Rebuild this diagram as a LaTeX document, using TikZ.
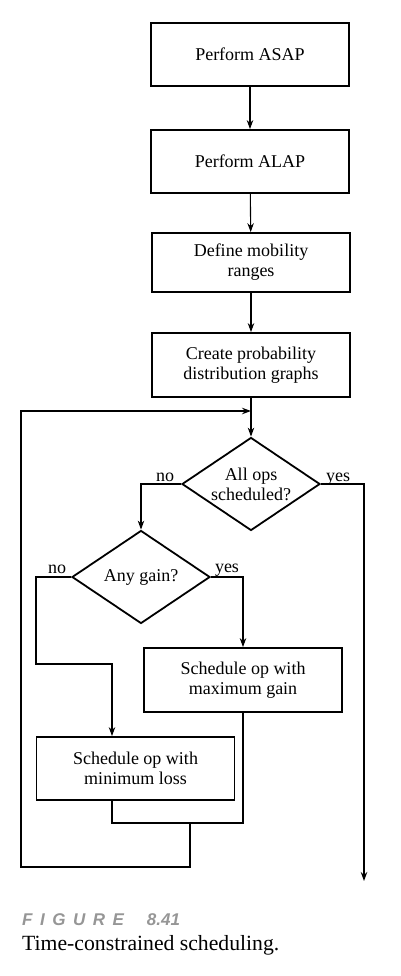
\documentclass[tikz,border=0pt]{standalone}
\usepackage{fontspec}
\setmainfont{Liberation Serif}
\newfontfamily\capsans{Liberation Sans}
\usetikzlibrary{shapes.geometric,arrows.meta}
\definecolor{capgray}{RGB}{150,150,150}
\begin{document}
\begin{tikzpicture}[x=1pt,y=-1pt,
  txt/.style={font=\fontsize{18}{20}\selectfont},
  box/.style={txt,draw,line width=1.8pt,minimum width=198pt,minimum height=63pt,inner sep=0pt,align=center},
  dec/.style={txt,draw,diamond,line width=1.8pt,aspect=1.48,inner sep=0pt,minimum width=138pt,minimum height=93pt,align=center},
  conn/.style={line width=1.1pt},
  arr/.style={conn,-{Stealth[length=9pt,width=6.5pt]}},
  lab/.style={txt,anchor=base,inner sep=0pt}]
\useasboundingbox (0,0) rectangle (400,976);

\node[box] (asap) at (250,54.5) {Perform ASAP};
\node[box] (alap) at (250,161.5) {Perform ALAP};
\node[box,minimum height=59pt] (mob) at (251,262.5) {Define mobility\\ranges};
\node[box,minimum height=64pt] (pdg) at (251,365) {Create probability\\distribution graphs};
\node[dec] (d1) at (251,484) {All ops\\scheduled?};
\node[dec] (d2) at (141,577) {Any gain?};
\node[box,minimum height=64pt] (maxg) at (243,680) {Schedule op with\\maximum gain};
\node[box] (minl) at (135.5,768.5) {Schedule op with\\minimum loss};

\node[lab] at (165,481) {no};
\node[lab] at (338,481) {yes};
\node[lab] at (57,573) {no};
\node[lab] at (227,572) {yes};

\coordinate (endc) at (364,881);
\coordinate (lj) at (251,411);
\coordinate (nl1) at (36,664);
\coordinate (mlin) at (112,664);
\coordinate (jn) at (112,823);
\coordinate (lp) at (190,823);
\coordinate (lpb) at (190,867);
\coordinate (lpl) at (21,867);
\coordinate (lpt) at (21,411);

\draw[arr] (asap) -- (alap);
\draw[arr] (alap) -- (mob);
\draw[arr] (mob) -- (pdg);
\draw[arr] (pdg) -- (d1);
\draw[arr] (d1.west) -| (d2.north);
\draw[arr] (d1.east) -| (endc);
\draw[arr] (d2.east) -| (maxg.north);
\draw[arr] (d2.west) -| (nl1) -| (minl.north -| mlin);
\draw[conn] (maxg.south) |- (jn) -- (minl.south -| jn);
\draw[arr] (lp) -- (lpb) -- (lpl) -- (lpt) -- (lj);

\node[anchor=base west,inner sep=0pt,text=capgray,font=\capsans\bfseries\itshape\fontsize{17}{20}\selectfont] (fig) at (22,925) {F\kern7.5pt I\kern7.5pt G\kern7.5pt U\kern7.5pt R\kern7.5pt E\kern23pt 8.41};
\node[anchor=base west,inner sep=0pt,font=\fontsize{21.7}{24}\selectfont] (cap) at (22,950) {Time-constrained scheduling.};
\end{tikzpicture}
\end{document}
